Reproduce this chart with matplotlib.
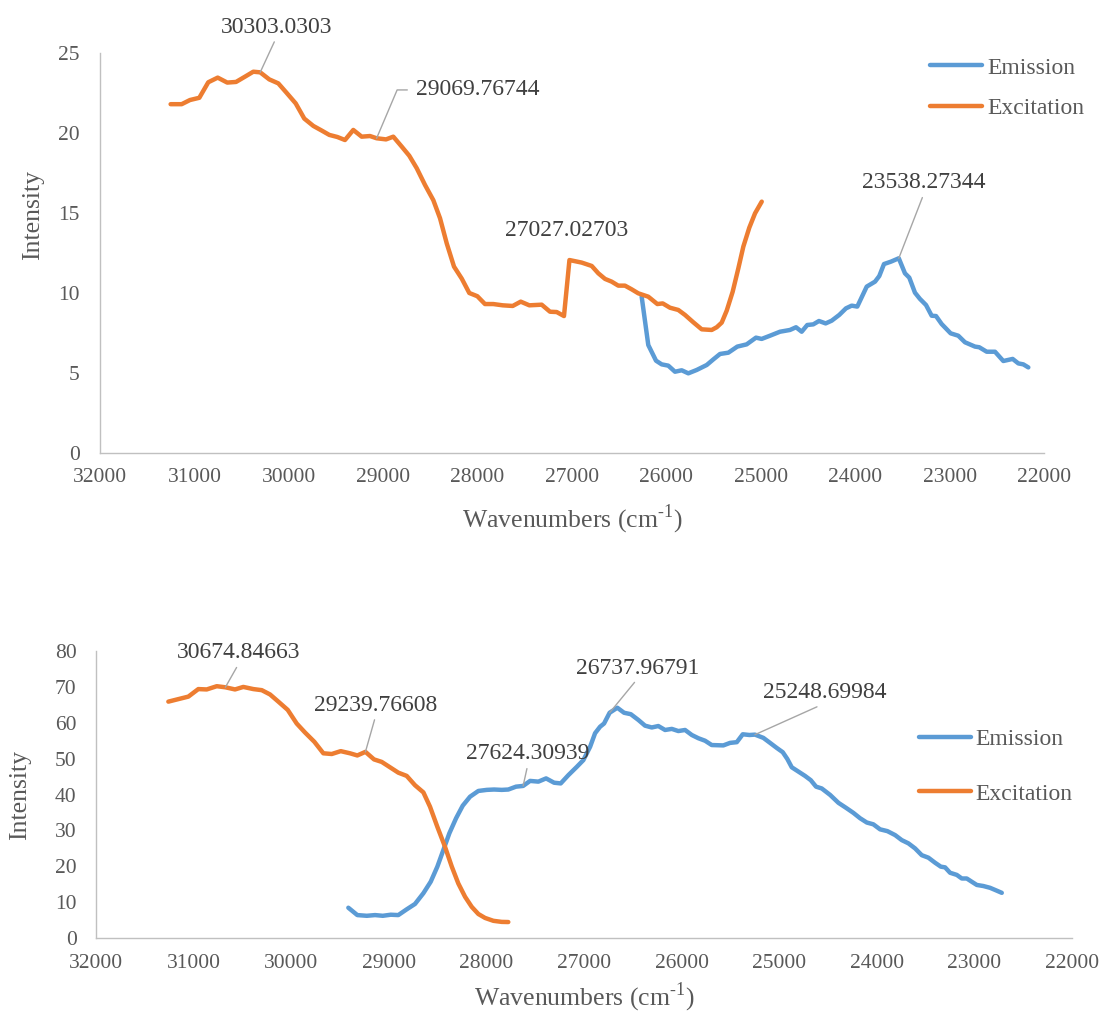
import matplotlib
matplotlib.use("Agg")
import matplotlib.pyplot as plt
from matplotlib.ticker import MultipleLocator
import numpy as np

# ---- upper spectrum ----
top_exc_wn = [31252, 31135, 31047, 30948, 30853, 30753, 30652, 30559, 30464, 30376,
              30303.0303, 30207, 30111, 30022, 29927, 29836, 29740, 29651, 29571, 29486,
              29405, 29317, 29228, 29140, 29069.76744, 28970, 28893, 28804, 28724, 28645,
              28557, 28469, 28398, 28327, 28250, 28168, 28088, 28003, 27922, 27834,
              27734, 27628, 27543, 27452, 27321, 27233, 27162, 27085, 27027.02703, 26897,
              26791, 26721, 26650, 26580, 26510, 26439, 26368, 26298, 26192, 26096,
              26039, 25962, 25874, 25803, 25715, 25626, 25520, 25467, 25414, 25361,
              25298, 25238, 25185, 25122, 25061, 24990]
top_exc_int = [21.8, 21.8, 22.06, 22.2, 23.17, 23.46, 23.15, 23.19, 23.52, 23.83,
               23.79, 23.35, 23.1, 22.5, 21.85, 20.9, 20.44, 20.15, 19.88, 19.75,
               19.56, 20.19, 19.77, 19.81, 19.67, 19.6, 19.77, 19.15, 18.58, 17.8,
               16.75, 15.8, 14.67, 13.1, 11.65, 10.9, 10.0, 9.8, 9.31, 9.31,
               9.23, 9.19, 9.46, 9.23, 9.27, 8.83, 8.81, 8.56, 12.06, 11.9,
               11.69, 11.23, 10.88, 10.71, 10.46, 10.46, 10.23, 9.98, 9.77, 9.31,
               9.35, 9.08, 8.94, 8.63, 8.17, 7.73, 7.69, 7.86, 8.15, 8.9,
               10.08, 11.54, 12.9, 14.08, 14.98, 15.71]

top_em_wn = [26262, 26192, 26110, 26050, 25980, 25909, 25838, 25768, 25679, 25573,
             25503, 25432, 25344, 25249, 25150, 25051, 24991, 24903, 24797, 24691,
             24627, 24567, 24508, 24444, 24384, 24313, 24249, 24169, 24098, 24037,
             23978, 23878, 23790, 23745, 23695, 23621, 23538.27344, 23473, 23427, 23367,
             23314, 23250, 23190, 23144, 23084, 22989, 22908, 22837, 22731, 22686,
             22607, 22519, 22431, 22332, 22272, 22219, 22166]
top_em_int = [9.77, 6.75, 5.77, 5.54, 5.46, 5.08, 5.17, 4.98, 5.19, 5.5,
              5.85, 6.19, 6.27, 6.65, 6.79, 7.21, 7.13, 7.33, 7.58, 7.69,
              7.86, 7.58, 8.0, 8.04, 8.25, 8.1, 8.27, 8.63, 9.04, 9.21,
              9.15, 10.4, 10.71, 11.06, 11.81, 11.96, 12.17, 11.23, 10.96, 10.02,
              9.63, 9.25, 8.58, 8.56, 8.06, 7.48, 7.33, 6.92, 6.65, 6.61,
              6.33, 6.33, 5.75, 5.88, 5.6, 5.54, 5.35]

top_peak_text = ["30303.0303", "29069.76744", "27027.02703", "23538.27344"]
top_peak_series = ["Excitation", "Excitation", "Excitation", "Emission"]

# ---- lower spectrum ----
bot_exc_wn = [31259, 31157, 31054, 30952, 30866, 30763, 30674.84663, 30576, 30491, 30388,
              30302, 30217, 30132, 30036, 29944, 29859, 29763, 29671, 29585, 29493,
              29398, 29323, 29239.76608, 29152, 29073, 28988, 28903, 28817, 28732, 28646,
              28578, 28503, 28424, 28355, 28288, 28219, 28151, 28083, 28014, 27929,
              27843, 27776]
bot_exc_int = [65.9, 66.6, 67.3, 69.4, 69.3, 70.2, 69.9, 69.3, 70.0, 69.4,
               69.1, 67.9, 65.9, 63.6, 59.8, 57.3, 54.7, 51.5, 51.3, 52.1,
               51.5, 50.9, 51.9, 49.8, 49.1, 47.6, 46.1, 45.2, 42.6, 40.6,
               36.6, 31.0, 25.4, 19.9, 15.2, 11.5, 8.7, 6.7, 5.6, 4.8,
               4.5, 4.46]

bot_em_wn = [29415, 29323, 29226, 29141, 29062, 28980, 28903, 28817, 28732, 28646,
             28571, 28503, 28442, 28380, 28311, 28243, 28168, 28083, 27997, 27922,
             27843, 27776, 27697, 27624.30939, 27553, 27468, 27389, 27307, 27239, 27161,
             27075, 27007, 26938, 26887, 26836, 26795, 26737.96791, 26659, 26590, 26521,
             26444, 26375, 26306, 26239, 26170, 26101, 26034, 25965, 25896, 25829,
             25760, 25692, 25573, 25504, 25435, 25374, 25306, 25248.69984, 25163, 25094,
             25026, 24964, 24917, 24872, 24804, 24736, 24677, 24623, 24565, 24479,
             24394, 24316, 24241, 24172, 24103, 24036, 23967, 23892, 23813, 23745,
             23677, 23609, 23540, 23472, 23404, 23345, 23301, 23250, 23181, 23130,
             23079, 23028, 22976, 22909, 22840, 22771, 22720]
bot_em_int = [8.45, 6.4, 6.2, 6.4, 6.2, 6.5, 6.4, 8.0, 9.5, 12.5,
              15.7, 19.9, 24.5, 29.2, 33.4, 36.9, 39.4, 41.0, 41.3, 41.4,
              41.3, 41.4, 42.2, 42.4, 43.8, 43.6, 44.5, 43.3, 43.1, 45.4,
              47.7, 49.6, 53.3, 57.1, 58.9, 59.8, 62.8, 64.2, 62.8, 62.4,
              60.8, 59.2, 58.7, 59.1, 58.0, 58.3, 57.7, 58.0, 56.6, 55.7,
              55.0, 53.8, 53.7, 54.4, 54.6, 56.8, 56.6, 56.7, 55.8, 54.4,
              53.0, 51.8, 49.9, 47.6, 46.4, 45.2, 44.0, 42.2, 41.7, 39.9,
              37.7, 36.3, 34.9, 33.4, 32.2, 31.7, 30.3, 29.8, 28.7, 27.3,
              26.4, 25.0, 23.1, 22.4, 21.0, 19.9, 19.7, 18.2, 17.6, 16.6,
              16.6, 15.7, 14.8, 14.5, 14.0, 13.2, 12.6]

bot_peak_text = ["30674.84663", "29239.76608", "27624.30939", "26737.96791", "25248.69984"]
bot_peak_series = ["Excitation", "Excitation", "Emission", "Emission", "Emission"]

BLUE = "#5B9BD5"
ORANGE = "#ED7D31"
AXIS_GREY = "#C0C0C0"
TICK_TEXT = "#595959"
LABEL_TEXT = "#404040"
LEADER = "#A6A6A6"

plt.rcParams["font.family"] = ["Liberation Serif", "DejaVu Serif"]
plt.rcParams["mathtext.fontset"] = "custom"
plt.rcParams["mathtext.rm"] = "Liberation Serif"


def style_axes(ax, ymax, ystep, xpad, ypad):
    ax.set_xlim(32000, 22000)
    ax.set_ylim(0, ymax)
    ax.xaxis.set_major_locator(MultipleLocator(1000))
    ax.yaxis.set_major_locator(MultipleLocator(ystep))
    for side in ("top", "right"):
        ax.spines[side].set_visible(False)
    for side in ("left", "bottom"):
        ax.spines[side].set_color(AXIS_GREY)
        ax.spines[side].set_linewidth(1.0)
    ax.tick_params(length=0, labelsize=15.5, labelcolor=TICK_TEXT)
    ax.tick_params(axis="x", pad=xpad)
    ax.tick_params(axis="y", pad=ypad)
    ax.set_xlabel(r"Wavenumbers (cm$^{\text{-1}}$)", fontsize=18.5, color=TICK_TEXT)
    ax.set_ylabel("Intensity", fontsize=18.5, color=TICK_TEXT)
    ax.xaxis.label.set_va("center")
    ax.yaxis.label.set_va("center")


def draw_series(ax, em_wn, em_int, exc_wn, exc_int):
    kw = dict(lw=3.2, solid_capstyle="round", solid_joinstyle="round")
    ax.plot(em_wn, em_int, color=BLUE, label="Emission", **kw)
    ax.plot(exc_wn, exc_int, color=ORANGE, label="Excitation", **kw)
    return {"Emission": (em_wn, em_int), "Excitation": (exc_wn, exc_int)}


def label_peak(ax, series, text, offset, leader=True, elbow=False):
    wn, inten = series
    idx = int(np.argmin(np.abs(np.asarray(wn) - float(text))))
    xy = (wn[idx], inten[idx])
    arrow = None
    if leader:
        arrow = dict(arrowstyle="-", color=LEADER, lw=1, shrinkA=1, shrinkB=0,
                     relpos=(0.5, 0.0))
        if elbow:
            arrow.update(relpos=(0.0, 0.5), shrinkA=4.5,
                         connectionstyle="angle,angleA=180,angleB=67,rad=0")
    ax.annotate(text, xy=xy, xytext=offset, textcoords="offset points",
                ha="left" if elbow else "center", va="center",
                fontsize=17, color=LABEL_TEXT, arrowprops=arrow)


fig = plt.figure(figsize=(11.05, 10.13), dpi=100)

# upper panel
ax1 = fig.add_axes([0.0905, 0.5528, 0.8543, 0.3949])
style_axes(ax1, 25, 5, xpad=10.5, ypad=14.5)
ax1.xaxis.set_label_coords(0.5, -0.165)
ax1.yaxis.set_label_coords(-0.071, 0.595)
s1 = draw_series(ax1, top_em_wn, top_em_int, top_exc_wn, top_exc_int)
top_offsets = [(11.5, 32.4), (28.6, 34.8), (-2.2, 21.1), (18.1, 54.2)]
for txt, ser, off in zip(top_peak_text, top_peak_series, top_offsets):
    label_peak(ax1, s1[ser], txt, off,
               leader=(txt != "27027.02703"), elbow=(txt == "29069.76744"))
ax1.legend(loc="center left", bbox_to_anchor=(930 / 1105, 1 - 88 / 1013),
           bbox_transform=fig.transFigure, frameon=False, fontsize=17,
           labelcolor=TICK_TEXT, handlelength=2.2, handletextpad=0.25,
           labelspacing=0.8, borderpad=0, borderaxespad=0)

# lower panel
ax2 = fig.add_axes([0.0869, 0.0740, 0.8833, 0.2833])
style_axes(ax2, 80, 10, xpad=11.2, ypad=14)
ax2.xaxis.set_label_coords(0.5, -0.205)
ax2.yaxis.set_label_coords(-0.078, 0.498)
s2 = draw_series(ax2, bot_em_wn, bot_em_int, bot_exc_wn, bot_exc_int)
bot_offsets = [(9.7, 24.7), (7.4, 33.6), (3.4, 23.0), (20.2, 32.2), (50.0, 30.0)]
for txt, ser, off in zip(bot_peak_text, bot_peak_series, bot_offsets):
    label_peak(ax2, s2[ser], txt, off)
ax2.legend(loc="center left", bbox_to_anchor=(919 / 1105, 1 - 766.5 / 1013),
           bbox_transform=fig.transFigure, frameon=False, fontsize=17,
           labelcolor=TICK_TEXT, handlelength=2.2, handletextpad=0.2,
           labelspacing=1.4, borderpad=0, borderaxespad=0)

fig.savefig("out.png", dpi=100)
